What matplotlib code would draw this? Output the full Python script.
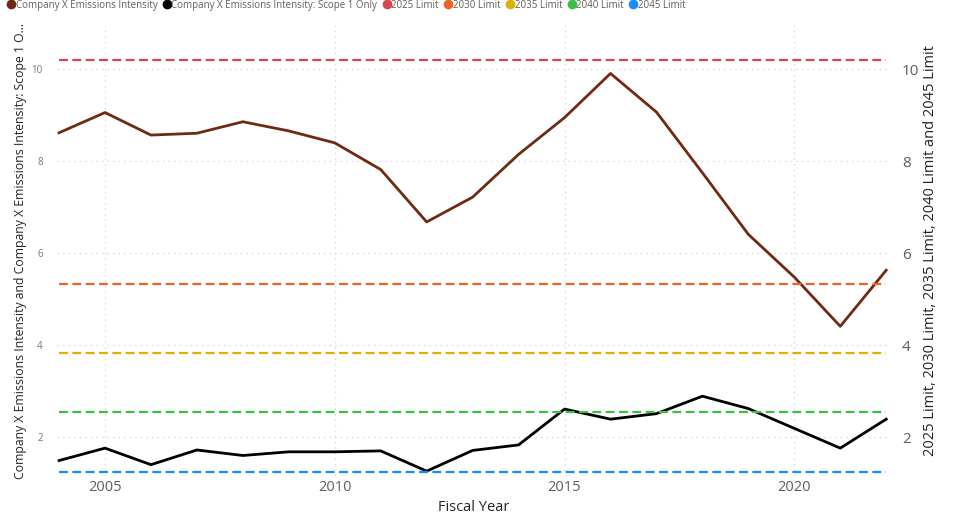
import matplotlib
matplotlib.use("Agg")
import matplotlib.pyplot as plt
from matplotlib.lines import Line2D

years = list(range(2004, 2023))
intensity = [8.62, 9.06, 8.57, 8.61, 8.86, 8.66, 8.40, 7.82, 6.68, 7.22, 8.15,
             8.95, 9.91, 9.07, 7.75, 6.41, 5.48, 4.41, 5.63]
scope1 = [1.49, 1.76, 1.40, 1.72, 1.60, 1.68, 1.68, 1.70, 1.26, 1.71, 1.83,
          2.61, 2.39, 2.51, 2.89, 2.62, 2.19, 1.76, 2.39]
limit_names = ["2025 Limit", "2030 Limit", "2035 Limit", "2040 Limit", "2045 Limit"]
limit_values = [10.21, 5.32, 3.83, 2.54, 1.24]
limit_colors = ["#D64550", "#EE6428", "#DDB100", "#3DBE45", "#1A8CFF"]
series_names = ["Company X Emissions Intensity", "Company X Emissions Intensity: Scope 1 Only"]
series_colors = ["#6E2A12", "#000000"]
xticks = [2005, 2010, 2015, 2020]
yticks = [2, 4, 6, 8, 10]

plt.rcParams['font.family'] = ['Open Sans', 'DejaVu Sans']

fig = plt.figure(figsize=(9.62, 5.25), dpi=100)
ax = fig.add_axes([0.059, 0.093, 0.867, 0.859])
ax2 = ax.twinx()

ylim = (1.15, 10.96)
ax.set_ylim(*ylim)
ax2.set_ylim(*ylim)
ax.set_xlim(2003.95, 2022.1)

ax.plot(years, intensity, color=series_colors[0], lw=2.0, zorder=3)
ax.plot(years, scope1, color=series_colors[1], lw=2.0, zorder=3)
for v, c in zip(limit_values, limit_colors):
    ax2.plot([years[0], years[-1]], [v, v], color=c, lw=1.6, dashes=(4, 2))

ax.set_xticks(xticks)
ax.set_yticks(yticks)
ax2.set_yticks(yticks)
ax.grid(True, color="#D9D9D9", linestyle=(0, (1, 3)), lw=1.0)
ax.set_axisbelow(True)
for a in (ax, ax2):
    for s in a.spines.values():
        s.set_visible(False)
ax.tick_params(axis='y', length=0, labelsize=7, labelcolor="#777777", pad=10)
ax.tick_params(axis='x', length=0, labelsize=10.5, labelcolor="#605E5C", pad=3)
ax2.tick_params(axis='y', length=0, labelsize=11, labelcolor="#605E5C", pad=8)

ax.set_xlabel("Fiscal Year", fontsize=10.5, color="#252423", labelpad=3)
ax.set_ylabel("Company X Emissions Intensity and Company X Emissions Intensity: Scope 1 O...",
              fontsize=8.8, color="#252423", labelpad=3)
ax2.set_ylabel("2025 Limit, 2030 Limit, 2035 Limit, 2040 Limit and 2045 Limit",
               fontsize=10.5, color="#252423", labelpad=3)

handles = [Line2D([], [], marker='o', ls='', color=c, markersize=6) for c in series_colors + limit_colors]
labels = series_names + limit_names
fig.legend(handles, labels, loc='upper left', bbox_to_anchor=(0.0, 1.012), ncol=7,
           frameon=False, fontsize=7, handletextpad=0.0, columnspacing=0.45,
           handlelength=1.0, labelcolor="#605E5C", borderaxespad=0.2)

fig.savefig("out.png", dpi=100)
